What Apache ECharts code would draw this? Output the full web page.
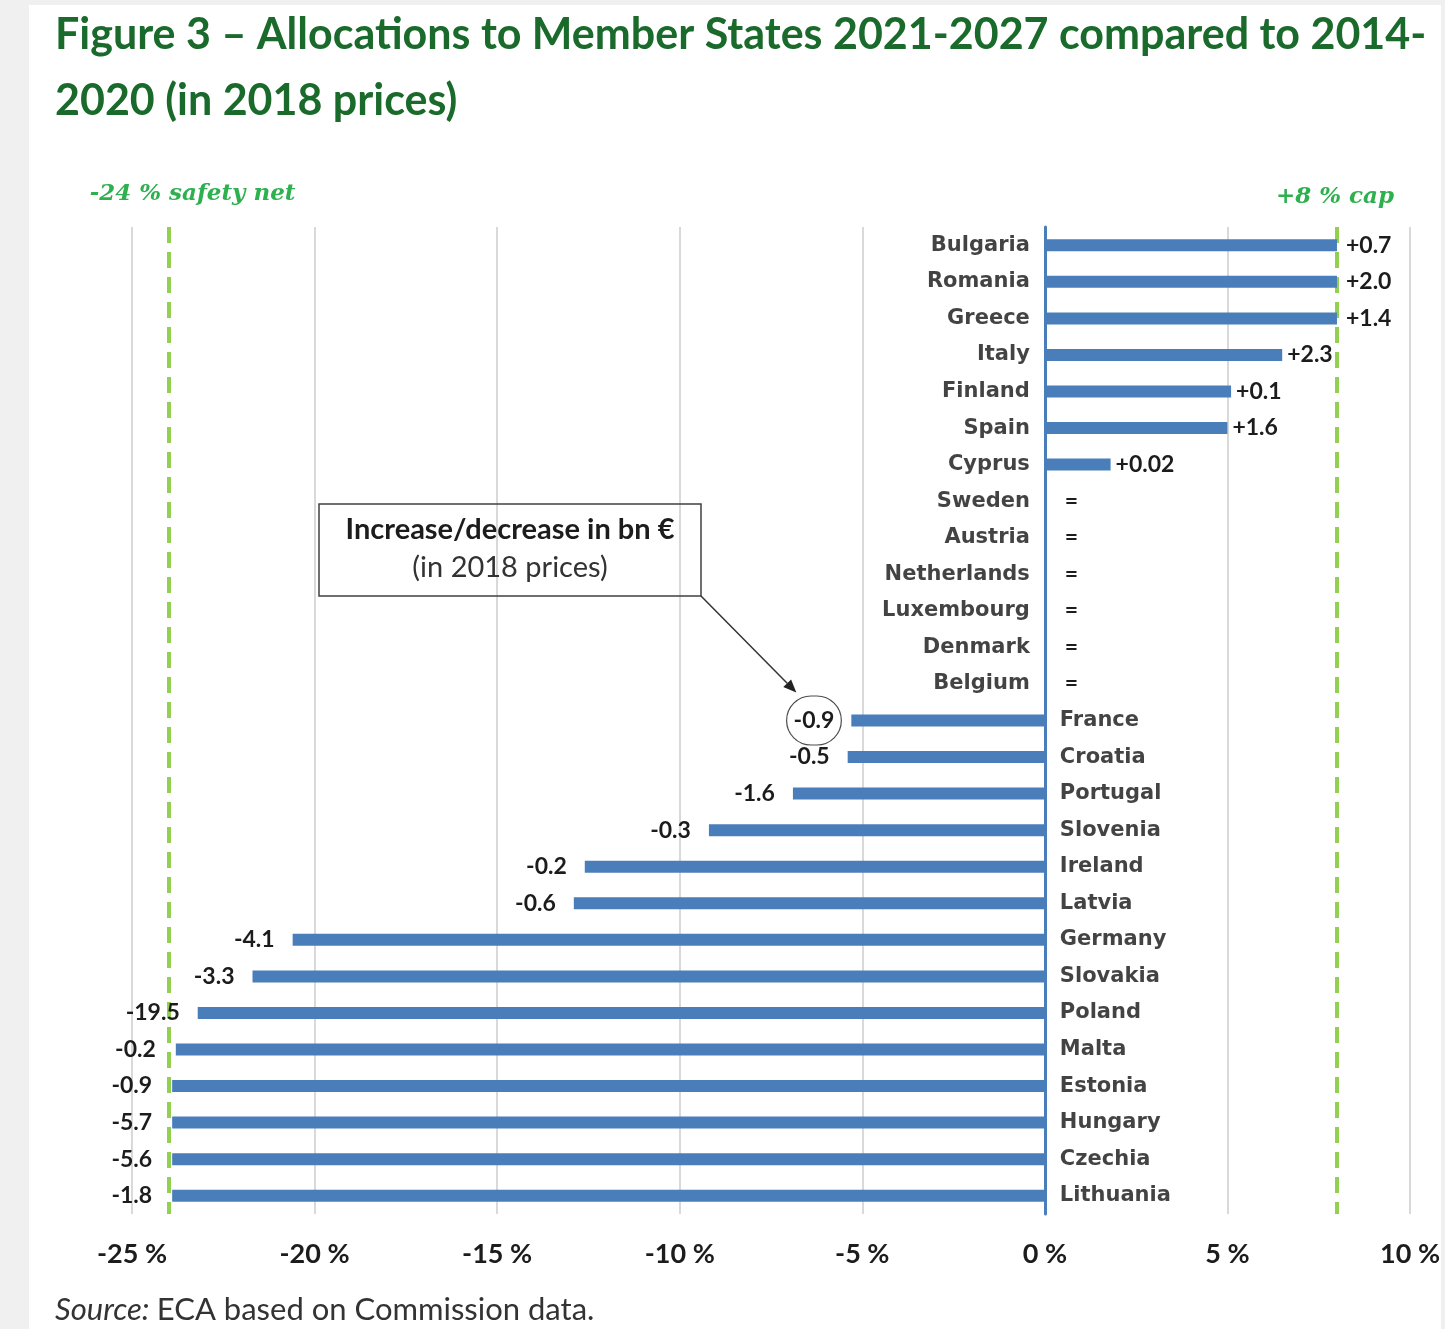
<!DOCTYPE html>
<html>
<head>
<meta charset="utf-8">
<script src="https://cdn.jsdelivr.net/npm/echarts@6/dist/echarts.min.js"></script>
<style>
  html, body { margin: 0; padding: 0; background: #f0f0f0; }
  #chart { width: 1445px; height: 1329px; }
</style>
</head>
<body>
<div id="chart"></div>
<script>
// Member States, top to bottom
const countries = [
  'Bulgaria', 'Romania', 'Greece', 'Italy', 'Finland', 'Spain', 'Cyprus',
  'Sweden', 'Austria', 'Netherlands', 'Luxembourg', 'Denmark', 'Belgium',
  'France', 'Croatia', 'Portugal', 'Slovenia', 'Ireland', 'Latvia',
  'Germany', 'Slovakia', 'Poland', 'Malta', 'Estonia', 'Hungary', 'Czechia', 'Lithuania'
];

// Change of allocation 2021-2027 vs 2014-2020, in %
const shareChange = [
  8, 8, 8, 6.5, 5.1, 5.0, 1.8,
  0, 0, 0, 0, 0, 0,
  -5.3, -5.4, -6.9, -9.2, -12.6, -12.9,
  -20.6, -21.7, -23.2, -23.8, -23.9, -23.9, -23.9, -23.9
];

// Change of allocation in bn EUR (2018 prices)
const bnChange = [
  0.7, 2.0, 1.4, 2.3, 0.1, 1.6, 0.02,
  0, 0, 0, 0, 0, 0,
  -0.9, -0.5, -1.6, -0.3, -0.2, -0.6,
  -4.1, -3.3, -19.5, -0.2, -0.9, -5.7, -5.6, -1.8
];

// Axis range and the two reference limits, in %
const axisMin = -25, axisMax = 10, axisStep = 5;
const safetyNet = -24;
const cap = 8;

const BLUE = '#4a7ebb';
const LIMIT_GREEN = '#92d050';
const LABEL_GREEN = '#2eb04f';
const INK = '#1c1c1c';

function fmtBn(v) {
  if (v === 0) return '=';
  const a = Math.abs(v);
  const s = Math.abs(a * 10 - Math.round(a * 10)) < 1e-9 ? a.toFixed(1) : String(a);
  return (v > 0 ? '+' : '-') + s;
}

const barData = shareChange.map((v, i) => {
  const label = {
    position: v < 0 ? 'left' : 'right',
    distance: v < 0 ? (v <= -23.5 ? 20 : 18) : (v === 0 ? 20 : (v >= cap ? 9 : 5))
  };
  if (countries[i] === 'France') {
    Object.assign(label, {
      distance: 10,
      padding: [14, 7, 12, 7],
      borderColor: '#4d4d4d',
      borderWidth: 1.2,
      borderRadius: 26
    });
  }
  return { value: v, label };
});

const nameData = countries.map((c, i) => ({
  value: [0, c],
  label: { position: shareChange[i] >= 0 ? 'left' : 'right' }
}));

const chart = echarts.init(document.getElementById('chart'), null, { renderer: 'canvas' });

chart.setOption({
  backgroundColor: '#f0f0f0',
  animation: false,
  title: {
    text: 'Figure 3 \u2013 Allocations to Member States 2021-2027 compared to 2014-\n2020 (in 2018 prices)',
    left: 55,
    top: 2,
    padding: 0,
    textStyle: {
      fontFamily: 'Lato',
      fontWeight: 'bold',
      fontSize: 43,
      lineHeight: 66,
      color: '#1a6a2c'
    }
  },
  grid: { left: 132, right: 35, top: 227, bottom: 115 },
  xAxis: {
    type: 'value',
    min: axisMin,
    max: axisMax,
    interval: axisStep,
    axisLine: { show: false },
    axisTick: { show: false },
    splitLine: { lineStyle: { color: '#d9d9d9', width: 2 } },
    axisLabel: {
      margin: 27,
      formatter: v => v + ' %',
      fontFamily: 'Lato',
      fontWeight: 'bold',
      fontSize: 27,
      color: INK
    }
  },
  yAxis: {
    type: 'category',
    inverse: true,
    data: countries,
    axisTick: { show: false },
    axisLabel: { show: false },
    splitLine: { show: false },
    axisLine: { onZero: true, lineStyle: { color: BLUE, width: 3 } }
  },
  series: [
    {
      type: 'bar',
      data: barData,
      barWidth: 12,
      itemStyle: { color: BLUE },
      z: 3,
      label: {
        show: true,
        formatter: p => fmtBn(bnChange[p.dataIndex]),
        fontFamily: 'Lato',
        fontWeight: 'bold',
        fontSize: 23,
        color: INK
      },
      markLine: {
        silent: true,
        symbol: 'none',
        label: { show: false },
        lineStyle: { color: LIMIT_GREEN, width: 4, type: [16, 9] },
        data: [{ xAxis: safetyNet }, { xAxis: cap }],
        z: 2
      }
    },
    {
      type: 'scatter',
      data: nameData,
      symbolSize: 0,
      silent: true,
      z: 4,
      label: {
        show: true,
        distance: 15,
        formatter: p => p.value[1],
        fontFamily: 'DejaVu Sans',
        fontWeight: 'bold',
        fontSize: 21,
        color: '#141414'
      }
    }
  ]
});

// Limit captions, the explanatory box and its arrow, placed from the axis scale
const px = v => chart.convertToPixel({ xAxisIndex: 0 }, v);
const py = c => chart.convertToPixel({ yAxisIndex: 0 }, c);

const netX = px(safetyNet);
const capX = px(cap);
const franceY = py('France');
const franceStartX = px(shareChange[countries.indexOf('France')]);

const boxL = 319, boxT = 504, boxW = 382, boxH = 92;
const arrowFrom = [boxL + boxW, boxT + boxH];
const arrowTo = [franceStartX - 55, franceY - 28];
const ang = Math.atan2(arrowTo[1] - arrowFrom[1], arrowTo[0] - arrowFrom[0]);
const headLen = 13, headHalf = 5.5;
const bx = arrowTo[0] - headLen * Math.cos(ang), by = arrowTo[1] - headLen * Math.sin(ang);
const head = [
  arrowTo,
  [bx + headHalf * Math.sin(ang), by - headHalf * Math.cos(ang)],
  [bx - headHalf * Math.sin(ang), by + headHalf * Math.cos(ang)]
];

chart.setOption({
  graphic: [
    {
      type: 'rect', z: -10, silent: true,
      shape: { x: 29, y: 5, width: 1412, height: 1330 },
      style: { fill: '#ffffff' }
    },
    {
      type: 'text', silent: true, z: 10,
      x: netX + 24, y: 194,
      style: {
        text: '-24 % safety net',
        fill: LABEL_GREEN,
        font: 'italic bold 23px "DejaVu Serif"',
        align: 'center', verticalAlign: 'middle'
      }
    },
    {
      type: 'text', silent: true, z: 10,
      x: capX - 2, y: 197,
      style: {
        text: '+8 % cap',
        fill: LABEL_GREEN,
        font: 'italic bold 23px "DejaVu Serif"',
        align: 'center', verticalAlign: 'middle'
      }
    },
    {
      type: 'rect', silent: true, z: 10,
      shape: { x: boxL, y: boxT, width: boxW, height: boxH },
      style: { fill: 'transparent', stroke: '#404040', lineWidth: 1.5 }
    },
    {
      type: 'text', silent: true, z: 11,
      x: boxL + boxW / 2, y: boxT + 26,
      style: {
        text: 'Increase/decrease in bn \u20ac',
        fill: INK,
        font: 'bold 29px Lato',
        align: 'center', verticalAlign: 'middle'
      }
    },
    {
      type: 'text', silent: true, z: 11,
      x: boxL + boxW / 2, y: boxT + 64,
      style: {
        text: '(in 2018 prices)',
        fill: '#333333',
        font: '29px Lato',
        align: 'center', verticalAlign: 'middle'
      }
    },
    {
      type: 'line', silent: true, z: 11,
      shape: { x1: arrowFrom[0], y1: arrowFrom[1], x2: bx, y2: by },
      style: { stroke: '#333333', lineWidth: 1.5 }
    },
    {
      type: 'polygon', silent: true, z: 11,
      shape: { points: head },
      style: { fill: '#222222' }
    },
    {
      type: 'text', silent: true, z: 10,
      x: 55, y: 1310,
      style: {
        rich: {
          i: { fontStyle: 'italic', fontFamily: 'Lato', fontSize: 31, fill: '#333333' },
          n: { fontFamily: 'Lato', fontSize: 31, fill: '#333333' }
        },
        text: '{i|Source: }{n|ECA based on Commission data.}',
        align: 'left', verticalAlign: 'middle'
      }
    }
  ]
});
</script>
</body>
</html>
